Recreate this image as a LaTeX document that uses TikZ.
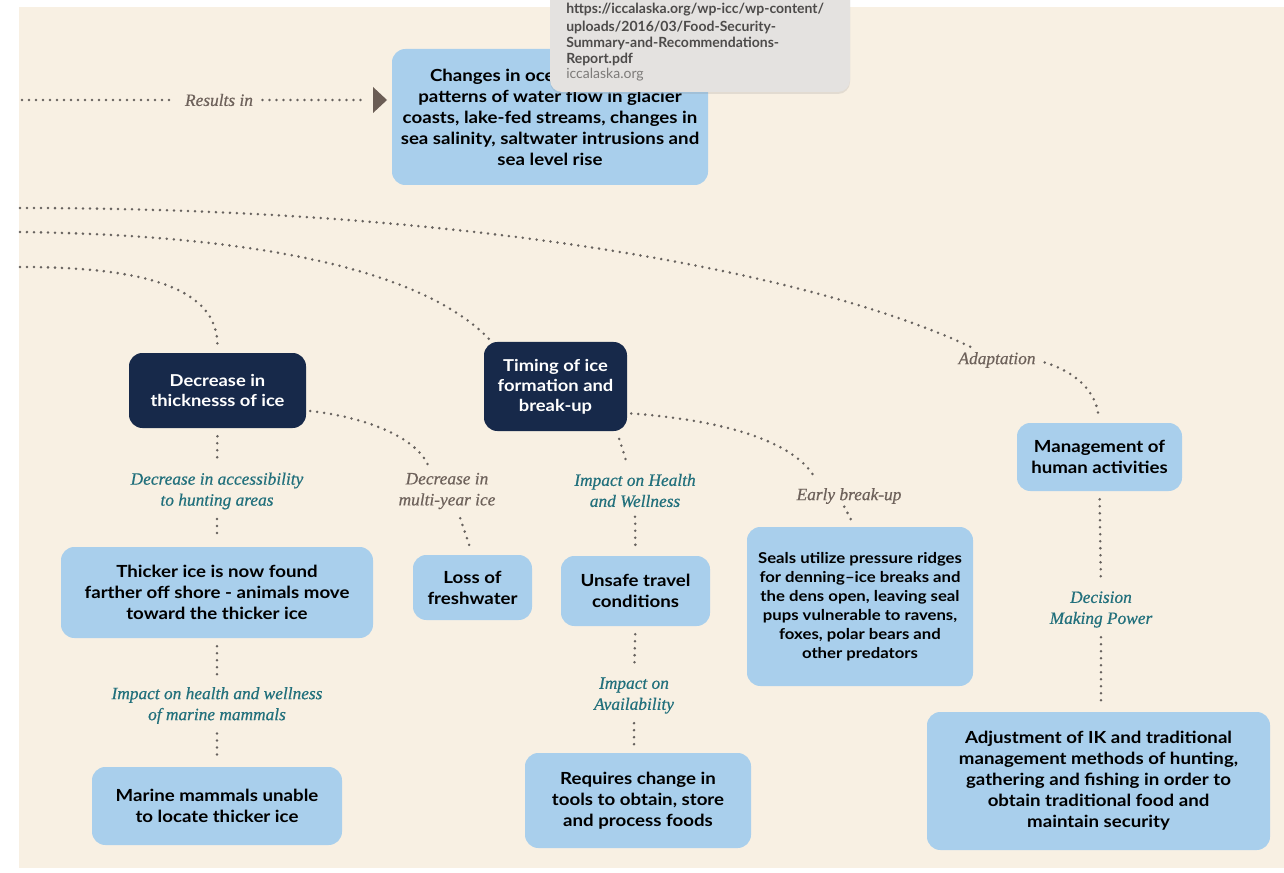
\documentclass[tikz,border=0pt]{standalone}
\usepackage{fontspec}
\usetikzlibrary{shadows}
\newfontfamily\boxfont{Lato}[FakeStretch=1.12]
\newfontfamily\tipfont{Lato}
\newfontfamily\labfont{Liberation Serif}[FakeBold=0.6]
\definecolor{cream}{HTML}{F8F0E3}
\definecolor{lblue}{HTML}{A9CFEC}
\definecolor{navy}{HTML}{17294A}
\definecolor{labteal}{HTML}{22707C}
\definecolor{labgray}{HTML}{6E625B}
\definecolor{dotc}{HTML}{67625E}
\definecolor{arrc}{HTML}{6B5D55}
\definecolor{tipbg}{HTML}{E4E2E0}
\definecolor{tiptext}{HTML}{4D4B4A}
\definecolor{tiplight}{HTML}{7C7A78}
\begin{document}
\begin{tikzpicture}[x=0.75pt,y=-0.75pt,
  lbox/.style={fill=lblue, rounded corners=10pt, align=center, inner sep=0pt,
    font=\boxfont\bfseries\fontsize{12.5}{15.75}\selectfont, text=black},
  sbox/.style={lbox, font=\boxfont\bfseries\fontsize{11.2}{14.25}\selectfont},
  dbox/.style={fill=navy, rounded corners=10pt, align=center, inner sep=0pt,
    font=\boxfont\bfseries\fontsize{12.3}{15}\selectfont, text=white},
  tlab/.style={font=\labfont\itshape\fontsize{13}{15.75}\selectfont, text=labteal, align=center, inner sep=1pt},
  glab/.style={tlab, text=labgray},
  dots/.style={draw=dotc, line width=2.1pt, line cap=round, dash pattern=on 0pt off 5.25pt, shorten <=6pt, shorten >=6pt},
  tipline/.style={anchor=west, inner sep=0pt, font=\tipfont\bfseries\fontsize{10.5}{12}\selectfont, text=tiptext}
]
\useasboundingbox (0,0) rectangle (1284,873);
\fill[white] (0,0) rectangle (1284,873);
\fill[cream] (19,7) rectangle (1284,868);

% boxes
\node[lbox, minimum width=237pt, minimum height=102pt] (res) at (550,117)
  {\makebox[180pt][l]{Changes in oce}\\patterns of water flow in glacier\\coasts, lake-fed streams, changes in\\sea salinity, saltwater intrusions and\\sea level rise};
\node[dbox, minimum width=132.75pt, minimum height=56.25pt] (dec) at (217.5,390.5) {Decrease in\\thicknesss of ice};
\node[dbox, minimum width=107.25pt, minimum height=66.75pt] (tim) at (555.5,386.5) {Timing of ice\\formation and\\break-up};
\node[lbox, minimum width=234pt, minimum height=68.25pt] (thick) at (217,592.5) {Thicker ice is now found\\farther off shore - animals move\\toward the thicker ice};
\node[lbox, minimum width=187.5pt, minimum height=58.5pt] (mar) at (217,806) {Marine mammals unable\\to locate thicker ice};
\node[lbox, minimum width=89.25pt, minimum height=48.75pt] (loss) at (472.5,587.5) {Loss of\\freshwater};
\node[lbox, minimum width=111.75pt, minimum height=52.5pt] (unsafe) at (635.5,591) {Unsafe travel\\conditions};
\node[lbox, minimum width=169.5pt, minimum height=71.25pt] (req) at (638,800.5) {Requires change in\\tools to obtain, store\\and process foods};
\node[sbox, minimum width=169.5pt, minimum height=119.25pt] (seals) at (860,606.5) {Seals utilize pressure ridges\\for denning–ice breaks and\\the dens open, leaving seal\\pups vulnerable to ravens,\\foxes, polar bears and\\other predators};
\node[lbox, minimum width=123.75pt, minimum height=51pt] (mgmt) at (1099.5,457) {Management of\\human activities};
\node[lbox, minimum width=257.25pt, minimum height=103.5pt] (adj) at (1098.5,781) {Adjustment of IK and traditional\\management methods of hunting,\\gathering and fishing in order to\\obtain traditional food and\\maintain security};

% labels
\node[glab] (lres) at (219,100) {Results in};
\node[tlab] (lacc) at (217,491) {Decrease in accessibility\\to hunting areas};
\node[tlab] (lhw) at (217,705.5) {Impact on health and wellness\\of marine mammals};
\node[glab] (lmy) at (447,491) {Decrease in\\multi-year ice};
\node[tlab] (lhe) at (635,490.5) {Impact on Health\\and Wellness};
\node[tlab] (lav) at (634,695.5) {Impact on\\Availability};
\node[glab] (leb) at (849,496) {Early break-up};
\node[glab] (adapt) at (997,360) {Adaptation};
\node[tlab] (ldm) at (1101,609.5) {Decision\\Making Power};

% free ends
\coordinate (s0) at (22,100);
\coordinate (s1) at (20,208);
\coordinate (s2) at (20,232);
\coordinate (s3) at (20,267);
\coordinate (arr) at (373,100);

% connectors
\draw[dots, shorten <=0pt] (s0) -- (lres.west);
\draw[dots] (lres.east) -- (arr);
\fill[arrc] ([yshift=9.75pt]arr) -- ([xshift=10.5pt]arr) -- ([yshift=-9.75pt]arr) -- cycle;

\draw[dots, shorten <=0pt] (s1) .. controls (500,208) and (830,280) .. ([xshift=16pt]adapt.north west);
\draw[dots] (adapt.east) .. controls (1075,372) and (1095,390) .. (mgmt.north);
\draw[dots, shorten <=0pt, shorten >=3pt] (s2) .. controls (250,235) and (420,268) .. ([xshift=6pt]tim.north west);
\draw[dots, shorten <=0pt] (s3) .. controls (150,267) and (217,290) .. (dec.north);

\draw[dots, shorten <=3pt] ([yshift=-15pt]dec.east) .. controls (370,418) and (415,438) .. ([xshift=-12pt]lmy.north);
\draw[dots] ([xshift=8pt]lmy.south) -- (loss.north);
\draw[dots] (dec.south) -- (lacc.north);
\draw[dots] (lacc.south) -- (thick.north);
\draw[dots] (thick.south) -- (lhw.north);
\draw[dots] (lhw.south) -- (mar.north);

\draw[dots] ([xshift=46pt]tim.south) -- ([xshift=-4pt]lhe.north);
\draw[dots] (lhe.south) -- (unsafe.north);
\draw[dots] (unsafe.south) -- (lav.north);
\draw[dots] (lav.south) -- (lav.south |- req.north);
\draw[dots, shorten <=3pt] ([yshift=-20pt]tim.east) .. controls (720,420) and (795,440) .. ([xshift=-22pt]leb.north);
\draw[dots, shorten <=1pt, shorten >=5pt] ([xshift=-4pt]leb.south) -- ([xshift=-4pt]seals.north);

\draw[dots] (mgmt.south) -- (ldm.north);
\draw[dots] (ldm.south) -- (ldm.south |- adj.north);

% tooltip
\node[fill=tipbg, rounded corners=9pt, minimum width=225pt, minimum height=84pt, inner sep=0pt,
  drop shadow={opacity=0.18, shadow xshift=0pt, shadow yshift=-1.5pt}] (tip) at (700,36) {};
\node[tipline] (t1) at (566,10) {https://iccalaska.org/wp-icc/wp-content/};
\node[tipline] (t2) at (566,27) {uploads/2016/03/Food-Security-};
\node[tipline] (t3) at (566,43) {Summary-and-Recommendations-};
\node[tipline] (t4) at (566,59) {Report.pdf};
\node[tipline, font=\tipfont\fontsize{10.5}{12}\selectfont, text=tiplight] (t5) at (566,75) {iccalaska.org};
\end{tikzpicture}
\end{document}
